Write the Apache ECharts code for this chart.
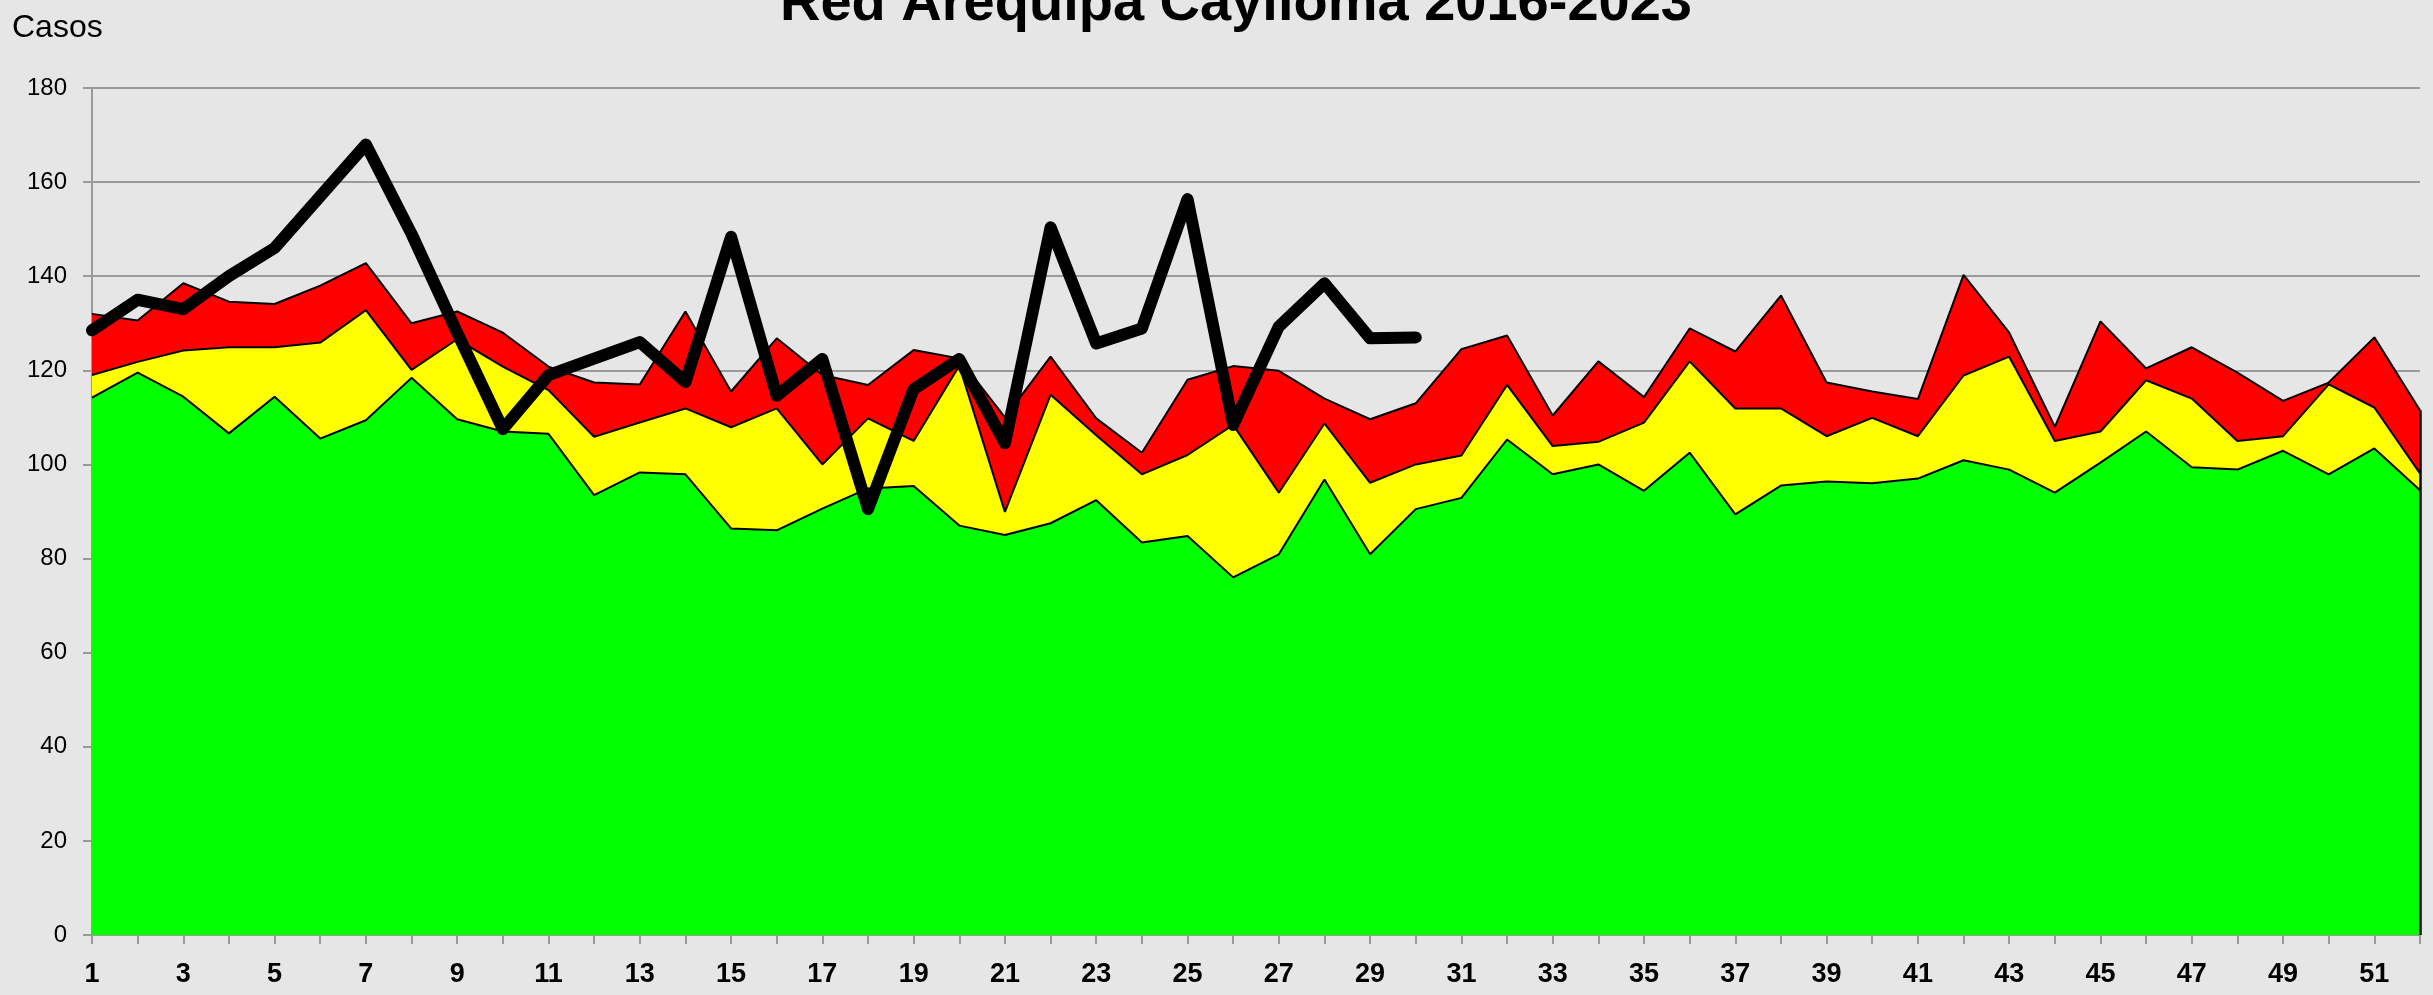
<!DOCTYPE html>
<html>
<head>
<meta charset="utf-8">
<title>Red Arequipa Caylloma 2016-2023</title>
<script src="https://cdn.jsdelivr.net/npm/echarts@6/dist/echarts.min.js"></script>
<style>
  html, body { margin: 0; padding: 0; background: #e6e6e6; }
  #chart { width: 2433px; height: 995px; }
</style>
</head>
<body>
<div id="chart"></div>
<script>
// Epidemiological weeks
const weeks = Array.from({ length: 52 }, (_, i) => String(i + 1));

// Endemic channel bands (stacked widths, cases per week)
const exito = [114.2, 119.5, 114.4, 106.6, 114.4, 105.5, 109.4, 118.4, 109.6, 107.0,
  106.5, 93.5, 98.3, 97.9, 86.4, 86.0, 90.6, 94.9, 95.4, 87.0,
  85.0, 87.5, 92.4, 83.4, 84.8, 76.0, 80.9, 96.8, 80.9, 90.5,
  92.9, 105.3, 97.9, 100.0, 94.4, 102.5, 89.4, 95.5, 96.4, 96.0,
  97.0, 100.9, 98.9, 94.0, 100.4, 107.0, 99.4, 98.9, 102.9, 97.9,
  103.4, 94.5];
const seguridad = [4.8, 2.3, 9.8, 18.3, 10.5, 20.4, 23.4, 1.7, 17.0, 13.8,
  9.3, 12.4, 10.6, 14.0, 21.5, 25.9, 9.4, 14.9, 9.6, 34.0,
  4.9, 27.3, 13.8, 14.5, 17.2, 32.4, 13.1, 11.9, 15.2, 9.5,
  9.0, 11.6, 6.0, 4.8, 14.5, 19.4, 22.5, 16.4, 9.6, 13.9,
  9.0, 18.0, 24.0, 11.0, 6.6, 10.9, 14.6, 6.1, 3.1, 19.1,
  8.7, 3.6];
const alarma = [13.0, 8.8, 14.3, 9.7, 9.2, 12.1, 10.0, 9.9, 5.9, 7.2,
  5.0, 11.5, 8.1, 20.6, 7.6, 14.9, 19.0, 7.1, 19.3, 1.5,
  20.1, 8.1, 3.6, 4.6, 16.0, 12.5, 25.9, 5.3, 13.5, 13.0,
  22.6, 10.5, 6.5, 17.1, 5.4, 7.0, 12.1, 24.0, 11.4, 5.6,
  7.9, 21.4, 5.1, 3.0, 23.4, 2.5, 10.9, 14.5, 7.5, 0.4,
  14.9, 13.4];

// Cases reported in 2023 (weeks 1-30)
const casos2023 = [128.5, 135, 133, 140, 146, 157, 168, 149, 128, 107.5,
  119, 122.5, 126, 117.5, 148.4, 114.6, 122.4, 90.5, 116, 122.4,
  104.5, 150.4, 125.7, 128.9, 156.4, 108.4, 129.3, 138.5, 126.8, 127];

const yTicks = { min: 0, max: 180, interval: 20 };

const lastWeek = weeks[weeks.length - 1];
const lastTotal = exito[51] + seguridad[51] + alarma[51];

const gridColor = '#9a9a9a';
const sans = '"Liberation Sans", Arial, sans-serif';

const band = (name, data, color, extra) => Object.assign({
  name: name,
  type: 'line',
  stack: 'canal',
  data: data,
  symbol: 'none',
  smooth: false,
  lineStyle: { color: '#000', width: 2 },
  areaStyle: { color: color, opacity: 1 },
  itemStyle: { color: color },
  emphasis: { disabled: true },
  z: 2
}, extra || {});

const chart = echarts.init(document.getElementById('chart'), null, { renderer: 'canvas' });

chart.setOption({
  animation: false,
  backgroundColor: '#e6e6e6',
  title: [
    {
      text: 'Red Arequipa Caylloma 2016-2023',
      left: 780,
      top: -23,
      padding: 0,
      textStyle: { fontFamily: sans, fontWeight: 'bold', fontSize: 56, lineHeight: 56, color: '#000' }
    },
    {
      text: 'Casos',
      left: 12,
      top: 12,
      padding: 0,
      textStyle: { fontFamily: sans, fontWeight: 'normal', fontSize: 32, lineHeight: 32, color: '#000' }
    }
  ],
  grid: { left: 92, right: 13, top: 88, bottom: 60, containLabel: false, outerBoundsMode: 'none' },
  xAxis: {
    type: 'category',
    data: weeks,
    boundaryGap: false,
    axisLine: { show: true, lineStyle: { color: gridColor, width: 2 } },
    axisTick: { show: true, interval: 0, length: 9, lineStyle: { color: gridColor, width: 2 } },
    axisLabel: {
      interval: 1,
      margin: 26,
      fontFamily: sans,
      fontWeight: 'bold',
      fontSize: 27,
      color: '#000'
    },
    splitLine: { show: false }
  },
  yAxis: {
    type: 'value',
    min: yTicks.min,
    max: yTicks.max,
    interval: yTicks.interval,
    axisLine: { show: true, lineStyle: { color: gridColor, width: 2 } },
    axisTick: { show: true, length: 9, lineStyle: { color: gridColor, width: 2 } },
    axisLabel: { margin: 25, fontFamily: sans, fontSize: 24, color: '#000' },
    splitLine: { show: true, lineStyle: { color: gridColor, width: 2 } }
  },
  series: [
    band('Éxito', exito, '#00ff00'),
    band('Seguridad', seguridad, '#ffff00'),
    band('Alarma', alarma, '#ff0000', {
      markLine: {
        silent: true,
        symbol: 'none',
        label: { show: false },
        lineStyle: { color: '#000', width: 2.5, type: 'solid' },
        data: [[{ coord: [lastWeek, 0] }, { coord: [lastWeek, lastTotal] }]]
      }
    }),
    {
      name: '2023',
      type: 'line',
      data: casos2023,
      symbol: 'none',
      lineStyle: { color: '#000', width: 12, cap: 'round', join: 'round' },
      itemStyle: { color: '#000' },
      emphasis: { disabled: true },
      z: 5
    }
  ]
});
</script>
</body>
</html>
